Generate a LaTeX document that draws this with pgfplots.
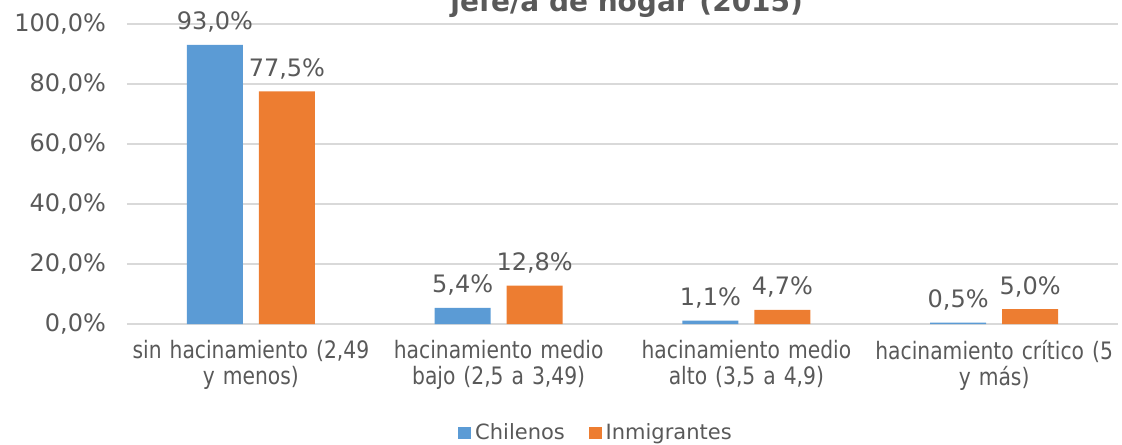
\documentclass[border=0pt]{standalone}
\usepackage{fontspec}
\setmainfont{DejaVu Sans}
\newfontfamily\condfont{DejaVu Sans}[FakeStretch=0.845]
\usepackage{pgfplots}
\pgfplotsset{compat=1.18}
\definecolor{cblue}{HTML}{5B9BD5}
\definecolor{corange}{HTML}{ED7D31}
\definecolor{tgray}{HTML}{595959}
\definecolor{ggray}{HTML}{D9D9D9}
\pgfkeys{/pgf/number format/.cd, fixed, fixed zerofill, precision=1, use comma, assume math mode=true}
\begin{document}
\begin{tikzpicture}
\begin{axis}[
  at={(0,0)}, anchor=south west,
  scale only axis, width=495.5pt, height=150pt,
  ybar=8pt, bar width=28pt,
  xmin=-0.5, xmax=3.5, ymin=0, ymax=100,
  xtick={0,1,2,3},
  xticklabels={{sin hacinamiento (2,49\\y menos)},{hacinamiento medio\\bajo (2,5 a 3,49)},{hacinamiento medio\\alto (3,5 a 4,9)},{hacinamiento crítico (5\\y más)}},
  x tick label style={align=center, text width=130pt, font=\condfont\fontsize{12}{13}\selectfont, text=tgray, inner sep=0pt, yshift=-8pt},
  ytick={0,20,40,60,80,100},
  yticklabel={\pgfmathprintnumber{\tick}\%},
  y tick label style={font=\fontsize{12}{14}\selectfont, text=tgray, xshift=-7pt},
  major tick length=0pt,
  axis line style={draw=none},
  ymajorgrids, major grid style={draw=ggray, line width=0.9pt},
  nodes near coords={\pgfmathprintnumber{\pgfplotspointmeta}\%},
  every node near coord/.append style={font=\fontsize{12}{14}\selectfont, text=tgray, anchor=base, yshift=7.5pt, inner sep=0pt},
  legend style={at={(axis description cs:0.4743,-0.3633)}, anchor=center, draw=none, legend columns=2, font=\fontsize{10.5}{12}\selectfont, text=tgray, /tikz/every even column/.append style={column sep=10pt}},
  legend image code/.code={\fill[#1] (0pt,-3.2pt) rectangle (6.4pt,3.2pt);},
]
\addplot[fill=cblue, draw=none] coordinates {(0,93.0) (1,5.4) (2,1.1) (3,0.5)};
\addplot[fill=corange, draw=none] coordinates {(0,77.5) (1,12.8) (2,4.7) (3,5.0)};
\legend{Chilenos,Inmigrantes}
\end{axis}
\node[anchor=base west, inner sep=0pt, text=tgray, font=\bfseries\fontsize{14}{16}\selectfont] at (161.5pt,156pt) {jefe/a de hogar (2015)};
\pgfresetboundingbox
\useasboundingbox (-63.5pt,-60pt) rectangle (497.5pt,162pt);
\end{tikzpicture}
\end{document}
